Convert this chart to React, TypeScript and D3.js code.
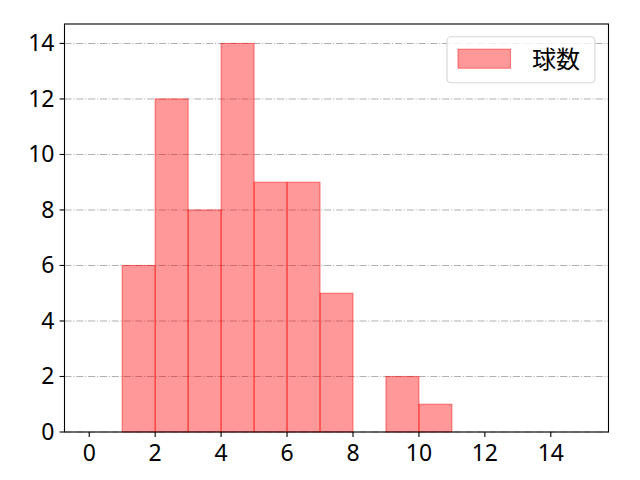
import { useRef, useEffect } from 'react';
import * as d3 from 'd3';

// histogram bins (left edges, width 1) and counts
const binStarts = [0, 1, 2, 3, 4, 5, 6, 7, 8, 9, 10, 11, 12, 13, 14];
const counts = [0, 6, 12, 8, 14, 9, 9, 5, 0, 2, 1, 0, 0, 0, 0];
const xTicks = [0, 2, 4, 6, 8, 10, 12, 14];
const yTicks = [0, 2, 4, 6, 8, 10, 12, 14];
const seriesLabel = '球数';

const FONT = "'Noto Sans CJK JP', 'Noto Sans', sans-serif";
const TICK_FONT = "'Noto Sans', 'DejaVu Sans', sans-serif";

export default function App() {
  const ref = useRef<SVGSVGElement | null>(null);

  useEffect(() => {
    const el = ref.current;
    if (!el) return;
    const svg = d3.select(el);
    svg.selectAll('*').remove();

    const width = 640;
    const height = 480;
    const margin = { top: 24, right: 31.5, bottom: 48, left: 64.5 };
    const x0 = margin.left;
    const x1 = width - margin.right;
    const y0 = height - margin.bottom;
    const y1 = margin.top;

    const xMax = d3.max(binStarts)! + 1;
    const xPad = xMax * 0.05;
    const x = d3.scaleLinear().domain([-xPad, xMax + xPad]).range([x0, x1]);
    const yMax = d3.max(counts)! * 1.05;
    const y = d3.scaleLinear().domain([0, yMax]).range([y0, y1]);

    svg.append('rect').attr('width', width).attr('height', height).attr('fill', '#fff');

    // grid
    svg
      .append('g')
      .selectAll('line')
      .data(yTicks)
      .enter()
      .append('line')
      .attr('x1', x0)
      .attr('x2', x1)
      .attr('y1', (d) => y(d))
      .attr('y2', (d) => y(d))
      .attr('stroke', '#b0b0b0')
      .attr('stroke-width', 1.1)
      .attr('stroke-dasharray', '7.1 1.8 1.1 1.8');

    // bars
    svg
      .append('g')
      .selectAll('rect')
      .data(binStarts.map((s, i) => ({ s, c: counts[i] })))
      .enter()
      .append('rect')
      .attr('x', (d) => x(d.s))
      .attr('width', (d) => x(d.s + 1) - x(d.s))
      .attr('y', (d) => y(d.c))
      .attr('height', (d) => y(0) - y(d.c))
      .attr('fill', 'rgba(255,0,0,0.4)')
      .attr('stroke', 'rgba(255,0,0,0.45)')
      .attr('stroke-width', 1.1);

    // frame
    svg
      .append('rect')
      .attr('x', x0)
      .attr('y', y1)
      .attr('width', x1 - x0)
      .attr('height', y0 - y1)
      .attr('fill', 'none')
      .attr('stroke', '#000')
      .attr('stroke-width', 1.1);

    // x ticks
    const gx = svg.append('g');
    xTicks.forEach((t) => {
      gx.append('line')
        .attr('x1', x(t))
        .attr('x2', x(t))
        .attr('y1', y0)
        .attr('y2', y0 + 4.9)
        .attr('stroke', '#000')
        .attr('stroke-width', 1.1);
      gx.append('text')
        .attr('x', x(t))
        .attr('y', y0 + 29)
        .attr('text-anchor', 'middle')
        .attr('font-family', TICK_FONT)
        .attr('font-size', '23px')
        .attr('fill', '#000')
        .text(t);
    });

    // y ticks
    const gy = svg.append('g');
    yTicks.forEach((t) => {
      gy.append('line')
        .attr('x1', x0 - 4.9)
        .attr('x2', x0)
        .attr('y1', y(t))
        .attr('y2', y(t))
        .attr('stroke', '#000')
        .attr('stroke-width', 1.1);
      gy.append('text')
        .attr('x', x0 - 10)
        .attr('y', y(t) + 8)
        .attr('text-anchor', 'end')
        .attr('font-family', TICK_FONT)
        .attr('font-size', '23px')
        .attr('fill', '#000')
        .text(t);
    });

    // legend
    const lw = 148;
    const lh = 46;
    const lx = x1 - 13.5 - lw;
    const ly = y1 + 12.7;
    const lg = svg.append('g');
    lg.append('rect')
      .attr('x', lx)
      .attr('y', ly)
      .attr('width', lw)
      .attr('height', lh)
      .attr('rx', 4)
      .attr('fill', 'rgba(255,255,255,0.8)')
      .attr('stroke', '#d6d6d6')
      .attr('stroke-width', 1.1);
    lg.append('rect')
      .attr('x', lx + 11)
      .attr('y', ly + 12.5)
      .attr('width', 52.5)
      .attr('height', 19)
      .attr('fill', 'rgba(255,0,0,0.4)')
      .attr('stroke', 'rgba(255,0,0,0.45)')
      .attr('stroke-width', 1.1);
    lg.append('text')
      .attr('x', lx + 85)
      .attr('y', ly + 31)
      .attr('font-family', FONT)
      .attr('font-size', '24px')
      .attr('fill', '#000')
      .text(seriesLabel);
  }, []);

  return (
    <svg
      ref={ref}
      width={640}
      height={480}
      style={{ position: 'absolute', left: 0, top: 0 }}
    />
  );
}
